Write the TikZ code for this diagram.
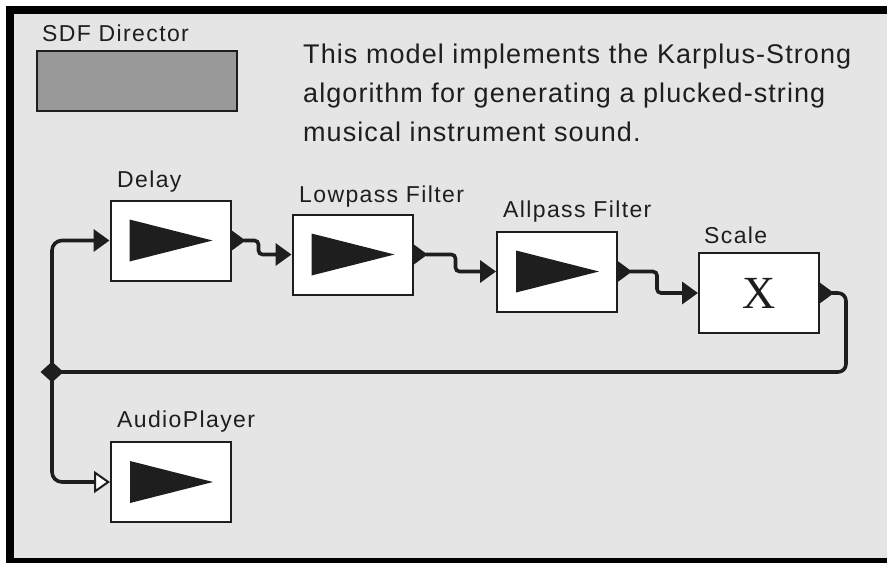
\documentclass[tikz,border=0pt]{standalone}
\usepackage{fontspec}
\setmainfont{Liberation Sans}
\newfontfamily\labfont[LetterSpace=6]{Liberation Sans}
\newfontfamily\txtfont[LetterSpace=4]{Liberation Sans}
\newfontfamily\xfont{Liberation Serif}
\usetikzlibrary{arrows.meta,calc,shapes.geometric}
\definecolor{bg}{HTML}{E5E5E5}
\definecolor{dirgrey}{HTML}{999999}
\definecolor{ink}{HTML}{1E1E1E}
\begin{document}
\begin{tikzpicture}[x=1pt,y=-1pt,
  actor/.style={draw=ink,line width=2pt,fill=white,minimum width=120pt,minimum height=80pt,inner sep=0pt},
  lab/.style={anchor=base west,inner sep=0pt,text=ink,font=\labfont\fontsize{23}{27}\selectfont},
  txt/.style={anchor=base west,inner sep=0pt,text=ink,font=\txtfont\fontsize{27}{39}\selectfont},
  wire/.style={line width=3.6pt,draw=ink,rounded corners=4pt},
  inarrow/.style={-{Triangle[length=16pt,width=22pt]}},
  openarrow/.style={-{Triangle[open,length=16pt,width=22pt,line width=2pt,fill=white]}}
]
\useasboundingbox (0,0) rectangle (887,563);
\fill[white] (0,0) rectangle (887,563);
\fill[black] (6,6) rectangle (887,563);
\fill[bg] (14,14) rectangle (887,558);

% director
\node[lab] (sdflab) at (42,41.7) {SDF Director};
\node[draw=ink,line width=1.5pt,fill=dirgrey,minimum width=200pt,minimum height=60pt,inner sep=0pt] (sdf) at (137,81) {};

% description
\node[txt] (t1) at (303,63) {This model implements the Karplus-Strong};
\node[txt] (t2) at (303,102) {algorithm for generating a plucked-string};
\node[txt] (t3) at (303,141) {musical instrument sound.};

% actors
\node[actor] (d) at (170.5,240.5) {};
\node[actor] (lp) at (352.5,254.5) {};
\node[actor] (apf) at (557,271.5) {};
\node[actor,font=\xfont\fontsize{46}{46}\selectfont,text=ink] (sc) at (759,293) {X};
\node[actor] (ap) at (171,482) {};

% labels
\node[lab] (dlab) at (117,187) {Delay};
\node[lab] (lplab) at (299,202) {Lowpass Filter};
\node[lab] (apflab) at (503,217) {Allpass Filter};
\node[lab] (sclab) at (704,243) {Scale};
\node[lab] (aplab) at (117,427) {AudioPlayer};

% icons
\foreach \n in {d,lp,apf,ap}{
  \fill[ink] ($(\n.west)+(20,-21)$) -- ($(\n.west)+(20,21)$) -- ($(\n.west)+(103,0)$) -- cycle;
}
% output ports
\foreach \n in {d,lp,apf,sc}{
  \fill[ink] ($(\n.east)+(-1,-11)$) -- ($(\n.east)+(-1,11)$) -- ($(\n.east)+(14,0)$) -- cycle;
  \coordinate (\n out) at ($(\n.east)+(12,0)$);
}

% junction
\node[diamond,fill=ink,minimum width=23pt,minimum height=21pt,inner sep=0pt] (junc) at (52,372) {};
\coordinate (fbR) at (846,372);

% wires
\draw[wire,inarrow] (dout) -- ++(15,0) |- (lp.west);
\draw[wire,inarrow] (lpout) -- ++(30,0) |- (apf.west);
\draw[wire,inarrow] (apfout) -- ++(27,0) |- (sc.west);
\draw[wire,rounded corners=8pt] (scout) -| (fbR) -- (junc.center);
\draw[wire,inarrow,rounded corners=10pt] (junc.center) |- (d.west);
\draw[wire,openarrow,rounded corners=10pt] (junc.center) |- (ap.west);
\end{tikzpicture}
\end{document}
